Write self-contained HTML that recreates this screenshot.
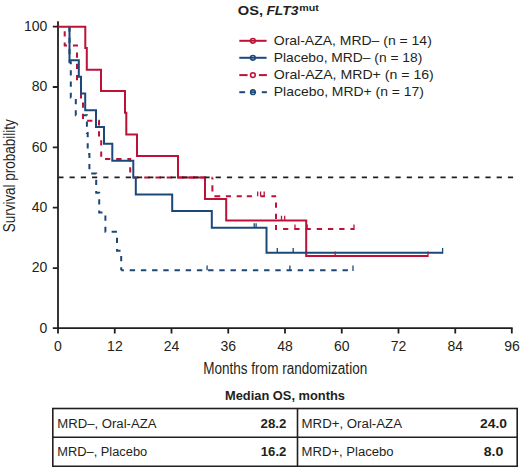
<!DOCTYPE html>
<html><head><meta charset="utf-8">
<style>
html,body{margin:0;padding:0;background:#fff;}
body{width:520px;height:467px;overflow:hidden;}
svg{display:block;}
text{font-family:"Liberation Sans",sans-serif;fill:#231f20;}
</style></head>
<body>
<svg width="520" height="467" viewBox="0 0 520 467">
<!-- title -->
<text x="237.8" y="15.2" font-size="13.5" font-weight="700" textLength="25.3" lengthAdjust="spacingAndGlyphs">OS,</text>
<text x="266.4" y="15.2" font-size="13.5" font-weight="700" font-style="italic" textLength="32" lengthAdjust="spacingAndGlyphs">FLT3</text>
<text x="299.3" y="11.4" font-size="9.5" font-weight="700" textLength="19.6" lengthAdjust="spacingAndGlyphs">mut</text>

<!-- legend -->
<g stroke-width="2" fill="none">
  <line x1="239.3" y1="40.8" x2="266.6" y2="40.8" stroke="#bc1238"/>
  <circle cx="252.9" cy="40.8" r="2.35" stroke="#bc1238" stroke-width="1.6" fill="#fff"/>
  <line x1="250.5" y1="40.8" x2="255.3" y2="40.8" stroke="#bc1238" stroke-width="1.8"/>
  <line x1="239.3" y1="57.8" x2="266.6" y2="57.8" stroke="#1b4879"/>
  <circle cx="252.9" cy="57.8" r="2.35" stroke="#1b4879" stroke-width="1.6" fill="#fff"/>
  <line x1="250.5" y1="57.8" x2="255.3" y2="57.8" stroke="#1b4879" stroke-width="1.8"/>
  <line x1="239.3" y1="75.1" x2="247.6" y2="75.1" stroke="#bc1238"/>
  <line x1="258.9" y1="75.1" x2="266.9" y2="75.1" stroke="#bc1238"/>
  <circle cx="252.9" cy="75.1" r="2.35" stroke="#bc1238" stroke-width="1.6" fill="#fff"/>
  <line x1="239.3" y1="92.2" x2="245.1" y2="92.2" stroke="#1b4879"/>
  <line x1="261.8" y1="92.2" x2="266.9" y2="92.2" stroke="#1b4879"/>
  <circle cx="253" cy="92.2" r="2.35" stroke="#1b4879" stroke-width="1.6" fill="#fff"/>
  <line x1="250.5" y1="92.2" x2="255.5" y2="92.2" stroke="#1b4879" stroke-width="1.8"/>
</g>
<text x="273.8" y="45" font-size="13.5" textLength="158" lengthAdjust="spacingAndGlyphs">Oral-AZA, MRD– (n = 14)</text>
<text x="273.8" y="62.1" font-size="13.5" textLength="148.5" lengthAdjust="spacingAndGlyphs">Placebo, MRD– (n = 18)</text>
<text x="273.8" y="79.3" font-size="13.5" textLength="160" lengthAdjust="spacingAndGlyphs">Oral-AZA, MRD+ (n = 16)</text>
<text x="273.8" y="96.4" font-size="13.5" textLength="150.2" lengthAdjust="spacingAndGlyphs">Placebo, MRD+ (n = 17)</text>

<!-- axes -->
<g stroke="#231f20" stroke-width="1.8" fill="none">
  <path d="M58 21.3 V328.2 H512.7"/>
  <path d="M52.8 26.7 H58 M52.8 87 H58 M52.8 147.4 H58 M52.8 207.7 H58 M52.8 268.1 H58 M52.8 328.2 H58"/>
  <path d="M58 328.2 V333.5 M114.75 328.2 V333.5 M171.5 328.2 V333.5 M228.25 328.2 V333.5 M285 328.2 V333.5 M341.75 328.2 V333.5 M398.5 328.2 V333.5 M455.25 328.2 V333.5 M511.8 328.2 V333.5"/>
</g>
<g font-size="14" text-anchor="end">
  <text x="47.3" y="30.7">100</text>
  <text x="47.3" y="91.3">80</text>
  <text x="47.3" y="151.6">60</text>
  <text x="47.3" y="211.9">40</text>
  <text x="47.3" y="272.2">20</text>
  <text x="47.3" y="332.5">0</text>
</g>
<g font-size="14" text-anchor="middle">
  <text x="58" y="350.8">0</text>
  <text x="114.9" y="350.8">12</text>
  <text x="171.6" y="350.8">24</text>
  <text x="228.3" y="350.8">36</text>
  <text x="285" y="350.8">48</text>
  <text x="341.8" y="350.8">60</text>
  <text x="398.5" y="350.8">72</text>
  <text x="455.3" y="350.8">84</text>
  <text x="512" y="350.8">96</text>
</g>
<text x="203.2" y="373.8" font-size="16" textLength="164" lengthAdjust="spacingAndGlyphs">Months from randomization</text>
<text transform="translate(14.8 232.3) rotate(-90)" x="0" y="0" font-size="16" textLength="113" lengthAdjust="spacingAndGlyphs">Survival probability</text>


<!-- curves -->
<g fill="none" stroke-width="2" stroke-linejoin="miter" stroke-linecap="butt">
  <!-- blue dashed: Placebo MRD+ -->
  <path stroke="#1b4879" stroke-dasharray="5.3 5.95" stroke-dashoffset="11.5" d="M69.5 26.7 V62.3 H70.8 V97.6 H75.8 V115.3 H86.9 V133 H87.7 V154 H89.4 V173.5 H96.2 V192.8 H99.2 V212.5 H105.4 V231.8 H117 V250.7 H121.2 V270.2"/>
  <path stroke="#1b4879" stroke-dasharray="5.4 5.8" stroke-dashoffset="2.7" d="M121.2 270.2 H353"/>
  <!-- red dashed: Oral-AZA MRD+ -->
  <path stroke="#bc1238" stroke-dasharray="5.3 5.9" stroke-dashoffset="6.7" d="M64.7 26.7 V45.4 H77 V83.2 H81 V102 H83 V120.8 H99 V139.6 H101.2 V158.9 H130.2 V177.5"/>
  <path stroke="#bc1238" stroke-dasharray="5.5 5.74" stroke-dashoffset="8.48" d="M130.2 177.5 H212.4"/>
  <path stroke="#bc1238" stroke-dasharray="2 5.7 6.4 6.6 5.8 5.7 5.1 5.7 5.1 5 5.1 8.6 4.4 6.5 4.6 20" d="M212.4 177.5 V196.2 H276"/>
  <path stroke="#bc1238" stroke-dasharray="5.3 5.94" stroke-dashoffset="5.04" d="M276 196.2 V229.1 H354"/>
  <!-- red solid: Oral-AZA MRD- -->
  <path stroke="#bc1238" d="M58 26.7 H85.3 V47.9 H86.8 V69.8 H101 V91.1 H125 V112.7 H126.3 V134.4 H137 V155.9 H178 V177.5 H205 V199.1 H226.2 V220.4 H306.2 V256 H428"/>
  <!-- blue solid: Placebo MRD- -->
  <path stroke="#1b4879" d="M69.5 27.6 V60.2 H78.8 V76.7 H81 V93.4 H85.2 V110.3 H96 V127 H104 V143.8 H112.3 V160.7 H133.3 V177.6 H135.8 V194.5 H172.2 V211 H211.8 V227.8 H266.5 V252.8 H442.6"/>
</g>
<!-- censor ticks -->
<g fill="none" stroke-width="1.3">
  <path stroke="#1b4879" d="M207.1 270.2 V265.4 M289.9 270.2 V265.4 M353 271 V265.4"/>
  <path stroke="#bc1238" d="M257.7 196.2 V191.6 M260.6 196.2 V191.6 M264.2 196.2 V191.6 M295 229.1 V224.5 M307.2 229.1 V224.5 M354 230 V224.5"/>
  <path stroke="#1b4879" d="M254.2 227.8 V223.2 M256.1 227.8 V223.2 M277.3 252.8 V248 M293.2 252.8 V248 M442.6 253.8 V248"/>
  <path stroke="#bc1238" d="M281.5 220.4 V215.8 M284.7 220.4 V215.8 M335.2 256 V251.4 M428 257 V251.4"/>
</g>

<!-- 50% reference -->
<line x1="58.3" y1="177.4" x2="513.1" y2="177.4" stroke="#231f20" stroke-width="1.8" stroke-dasharray="5.2 6.04"/>

<!-- table -->
<text x="285" y="400" font-size="12" font-weight="700" text-anchor="middle" textLength="120" lengthAdjust="spacingAndGlyphs">Median OS, months</text>
<g stroke="#231f20" stroke-width="1.6" fill="none">
  <rect x="52.8" y="408.5" width="464.4" height="57.8"/>
  <line x1="52.8" y1="437.2" x2="517.2" y2="437.2"/>
  <line x1="297.5" y1="408.5" x2="297.5" y2="466"/>
</g>
<g font-size="12">
  <text x="57.3" y="428" textLength="99.2" lengthAdjust="spacingAndGlyphs">MRD–, Oral-AZA</text>
  <text x="57.3" y="456.3" textLength="89.9" lengthAdjust="spacingAndGlyphs">MRD–, Placebo</text>
  <text x="301.6" y="428" textLength="100.4" lengthAdjust="spacingAndGlyphs">MRD+, Oral-AZA</text>
  <text x="301.6" y="456.3" textLength="92" lengthAdjust="spacingAndGlyphs">MRD+, Placebo</text>
</g>
<g font-size="12" font-weight="700" text-anchor="middle">
  <text x="273.5" y="428" textLength="25.8" lengthAdjust="spacingAndGlyphs">28.2</text>
  <text x="273.6" y="456.3" textLength="25.6" lengthAdjust="spacingAndGlyphs">16.2</text>
  <text x="493.6" y="428" textLength="27" lengthAdjust="spacingAndGlyphs">24.0</text>
  <text x="493.5" y="456.3" textLength="19.6" lengthAdjust="spacingAndGlyphs">8.0</text>
</g>
</svg>
</body></html>
